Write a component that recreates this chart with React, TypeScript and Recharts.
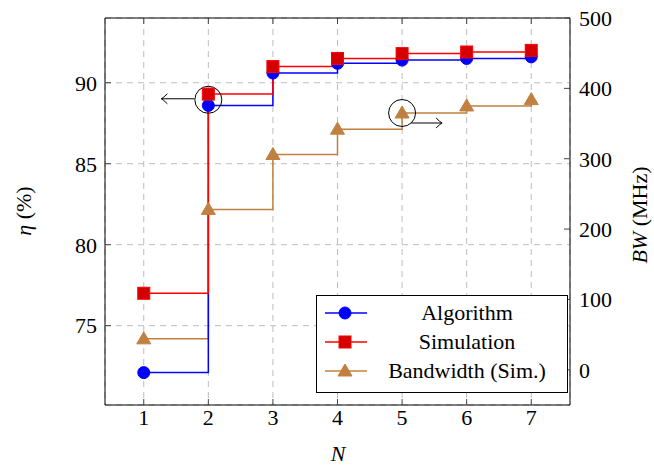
import React from "react";
import {
  CartesianGrid,
  ComposedChart,
  Customized,
  Legend,
  Line,
  ReferenceDot,
  XAxis,
  YAxis,
} from "recharts";

const nValues = [1, 2, 3, 4, 5, 6, 7];
const algorithm = [72.1, 88.6, 90.6, 91.2, 91.4, 91.5, 91.6];
const simulation = [77.0, 89.3, 91.0, 91.5, 91.8, 91.9, 92.0];
const bandwidth = [44, 228, 306, 342, 365, 375, 384];

const etaTicks = [75, 80, 85, 90];
const bwTicks = [0, 100, 200, 300, 400, 500];

const BLUE = "#0000ff";
const RED = "#ff0000";
const BROWN = "#bf8040";
const FONT = "Liberation Serif, Times New Roman, DejaVu Serif, serif";

const data = nValues.map((n, i) => ({
  n,
  algorithm: algorithm[i],
  simulation: simulation[i],
  bandwidth: bandwidth[i],
}));

const series = [
  { key: "algorithm", name: "Algorithm", color: BLUE, marker: "circle" },
  { key: "simulation", name: "Simulation", color: RED, marker: "square" },
  { key: "bandwidth", name: "Bandwidth (Sim.)", color: BROWN, marker: "triangle" },
];

function Marker({ kind, cx, cy, color }: { kind: string; cx: number; cy: number; color: string }) {
  if (kind === "square") {
    return <rect x={cx - 6} y={cy - 6} width={12} height={12} fill="#d40000" stroke={color} strokeWidth={1} />;
  }
  if (kind === "triangle") {
    return (
      <polygon
        points={`${cx},${cy - 7} ${cx - 7},${cy + 5} ${cx + 7},${cy + 5}`}
        fill={color}
        stroke={color}
      />
    );
  }
  return <circle cx={cx} cy={cy} r={6} fill={color} stroke={color} />;
}

const dotFor = (kind: string, color: string) => (p: any) => {
  if (p.cx == null || p.cy == null) return <g key={p.index} />;
  return (
    <g key={`${kind}-${p.index}`}>
      <Marker kind={kind} cx={p.cx} cy={p.cy} color={color} />
    </g>
  );
};

function LegendBox() {
  return (
    <div
      style={{
        width: 252,
        height: 98,
        border: "1px solid #000",
        background: "#fff",
        fontFamily: FONT,
        fontSize: 22,
        boxSizing: "border-box",
        paddingTop: 2,
      }}
    >
      {series.map((s) => (
        <div key={s.key} style={{ display: "flex", alignItems: "center", height: 29, lineHeight: "28px" }}>
          <svg width={52} height={20} style={{ marginLeft: 6, flex: "none" }}>
            <line x1={2} y1={10} x2={44} y2={10} stroke={s.color} strokeWidth={1.5} />
            <Marker kind={s.marker} cx={22} cy={10} color={s.color} />
          </svg>
          <span style={{ flex: 1, textAlign: "center", paddingRight: 8, whiteSpace: "nowrap" }}>{s.name}</span>
        </div>
      ))}
    </div>
  );
}

const arrowLeft = (x: number, y: number) => `M${x + 6},${y - 5} Q${x + 2},${y - 1} ${x},${y} Q${x + 2},${y + 1} ${x + 6},${y + 5}`;
const arrowRight = (x: number, y: number) => `M${x - 6},${y - 5} Q${x - 2},${y - 1} ${x},${y} Q${x - 2},${y + 1} ${x - 6},${y + 5}`;

function LeftCallout(p: any) {
  const { cx, cy } = p;
  return (
    <g>
      <circle cx={cx} cy={cy} r={13.5} fill="none" stroke="#000" strokeWidth={1} />
      <line x1={cx - 14} y1={cy - 1} x2={cx - 47} y2={cy - 1} stroke="#000" strokeWidth={1} />
      <path d={arrowLeft(cx - 47, cy - 1)} fill="none" stroke="#000" strokeWidth={1} />
    </g>
  );
}

function RightCallout(p: any) {
  const { cx, cy } = p;
  return (
    <g>
      <circle cx={cx} cy={cy} r={13.5} fill="none" stroke="#000" strokeWidth={1} />
      <line x1={cx + 9} y1={cy + 10} x2={cx + 40} y2={cy + 10} stroke="#000" strokeWidth={1} />
      <path d={arrowRight(cx + 40, cy + 10)} fill="none" stroke="#000" strokeWidth={1} />
    </g>
  );
}

function AxisTitles() {
  return (
    <g fontFamily={FONT} fontSize={22} fill="#000">
      <text x={338} y={461} textAnchor="middle" fontStyle="italic">
        N
      </text>
      <text x={31} y={211} textAnchor="middle" transform="rotate(-90 31 211)">
        <tspan fontStyle="italic">η</tspan>
        <tspan> (%)</tspan>
      </text>
      <text x={647} y={215} textAnchor="middle" transform="rotate(-90 647 215)">
        <tspan fontStyle="italic">BW</tspan>
        <tspan> (MHz)</tspan>
      </text>
    </g>
  );
}

const tickStyle = { fontFamily: FONT, fontSize: 22, fill: "#000" };

export default function App() {
  return (
    <div style={{ position: "absolute", left: 0, top: 0, width: 654, height: 468, background: "#fff" }}>
      <ComposedChart
        width={654}
        height={468}
        data={data}
        margin={{ top: 16, right: 24, bottom: 33, left: 60 }}
      >
        <CartesianGrid
          xAxisId="bottom"
          yAxisId="left"
          stroke="#bdbdbd"
          strokeDasharray="6 5"
        />
        <XAxis
          xAxisId="bottom"
          dataKey="n"
          type="number"
          domain={[0.4, 7.6]}
          ticks={nValues}
          allowDataOverflow
          height={30}
          tickSize={-6}
          tickMargin={10}
          tick={tickStyle}
          stroke="#000"
          tickLine={{ stroke: "#444" }}
        />
        <XAxis
          xAxisId="top"
          orientation="top"
          dataKey="n"
          type="number"
          domain={[0.4, 7.6]}
          ticks={nValues}
          allowDataOverflow
          height={2}
          tickSize={-6}
          tickFormatter={() => ""}
          stroke="#000"
          tickLine={{ stroke: "#444" }}
        />
        <YAxis
          yAxisId="left"
          domain={[70.1, 94]}
          ticks={etaTicks}
          allowDataOverflow
          width={45}
          tickSize={-6}
          tickMargin={14}
          tick={tickStyle}
          stroke="#000"
          tickLine={{ stroke: "#444" }}
        />
        <YAxis
          yAxisId="mirror"
          orientation="right"
          domain={[70.1, 94]}
          ticks={etaTicks}
          allowDataOverflow
          width={0}
          tickSize={-6}
          tickFormatter={() => ""}
          stroke="#000"
          tickLine={{ stroke: "#666" }}
        />
        <YAxis
          yAxisId="right"
          orientation="right"
          domain={[-50, 500]}
          ticks={bwTicks}
          allowDataOverflow
          width={60}
          tickSize={-6}
          tickMargin={15}
          tick={tickStyle}
          stroke="#000"
          tickLine={{ stroke: "#444" }}
        />
        <Line
          xAxisId="bottom"
          yAxisId="right"
          type="stepAfter"
          dataKey="bandwidth"
          name="Bandwidth (Sim.)"
          stroke={BROWN}
          strokeWidth={1.5}
          dot={dotFor("triangle", BROWN)}
          isAnimationActive={false}
        />
        <Line
          xAxisId="bottom"
          yAxisId="left"
          type="stepAfter"
          dataKey="algorithm"
          name="Algorithm"
          stroke={BLUE}
          strokeWidth={1.5}
          dot={dotFor("circle", BLUE)}
          isAnimationActive={false}
        />
        <Line
          xAxisId="bottom"
          yAxisId="left"
          type="stepAfter"
          dataKey="simulation"
          name="Simulation"
          stroke={RED}
          strokeWidth={1.5}
          dot={dotFor("square", RED)}
          isAnimationActive={false}
        />
        <ReferenceDot
          xAxisId="bottom"
          yAxisId="left"
          x={2}
          y={88.95}
          shape={LeftCallout}
        />
        <ReferenceDot
          xAxisId="bottom"
          yAxisId="right"
          x={5}
          y={365}
          shape={RightCallout}
        />
        <Legend
          layout="vertical"
          align="center"
          verticalAlign="middle"
          content={() => <LegendBox />}
          wrapperStyle={{ left: 316, top: 295, width: 252, height: 98 }}
        />
        <Customized component={<AxisTitles />} />
      </ComposedChart>
    </div>
  );
}
